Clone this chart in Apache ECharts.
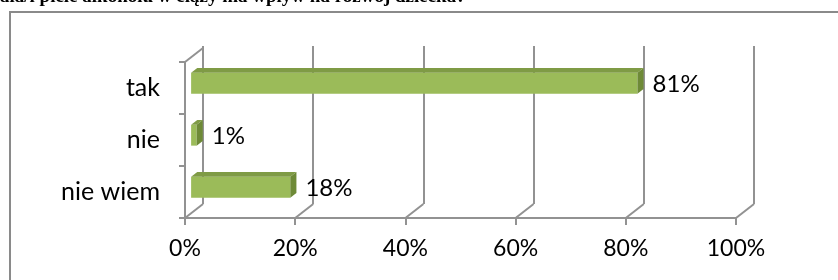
<!DOCTYPE html>
<html>
<head>
<meta charset="utf-8">
<script src="https://cdn.jsdelivr.net/npm/echarts@6/dist/echarts.min.js"></script>
<style>
html,body{margin:0;padding:0;background:#fff;}
#chart{width:838px;height:280px;}
</style>
</head>
<body>
<div id="chart"></div>
<script>
// ---- data ----
const titleText = 'ała/i picie alkoholu w ciąży ma wpływ na rozwój dziecka?';
const categories = ['tak', 'nie', 'nie wiem'];
const values = [81, 1, 18];
const tickValues = [0, 20, 40, 60, 80, 100];

// ---- style ----
const DX = 18, DY = -14;          // 3D depth offset of the back wall
const D0 = 0.34, D1 = 0.68;       // bar depth range (fraction of wall depth)
const LINE = '#929292';
const FONT = 'Lato';
const C_FRONT = '#9bbb59', C_TOP = '#7f9b45', C_SIDE = '#6e8a37';

const chart = echarts.init(document.getElementById('chart'), null, {renderer: 'canvas'});

function renderBar(params, api) {
  const v = api.value(0), c = api.value(1);
  const p0 = api.coord([0, c]);
  const p1 = api.coord([v, c]);
  const bandH = api.size([0, 1])[1];
  const h = bandH * 0.4;
  const fx = DX * D0, fy = DY * D0;
  const ddx = DX * (D1 - D0), ddy = DY * (D1 - D0);
  const yT = p0[1] - h / 2 + fy, yB = p0[1] + h / 2 + fy;
  const xL = p0[0] + fx, xR = p1[0] + fx;
  return {
    type: 'group',
    children: [
      {type: 'polygon', shape: {points: [[xL, yT], [xR, yT], [xR, yB], [xL, yB]]}, style: {fill: C_FRONT}},
      {type: 'polygon', shape: {points: [[xL, yT], [xR, yT], [xR + ddx, yT + ddy], [xL + ddx, yT + ddy]]}, style: {fill: C_TOP}},
      {type: 'polygon', shape: {points: [[xR, yT], [xR + ddx, yT + ddy], [xR + ddx, yB + ddy], [xR, yB]]}, style: {fill: C_SIDE}},
      {type: 'text', style: {
        text: v + '%', x: xR + ddx + 9, y: (yT + yB) / 2 + 1,
        font: '24px ' + FONT, fill: '#000', verticalAlign: 'middle', align: 'left'
      }}
    ]
  };
}

function renderDiag(params, api) {
  const v = api.value(0);
  const cs = params.coordSys;
  const x = api.coord([v, 0])[0];
  const yb = cs.y + cs.height;
  const children = [
    {type: 'line', shape: {x1: x, y1: yb, x2: x + DX, y2: yb + DY}, style: {stroke: LINE, lineWidth: 2}}
  ];
  if (v === tickValues[0]) {
    children.push({type: 'line', shape: {x1: x, y1: cs.y, x2: x + DX, y2: cs.y + DY}, style: {stroke: LINE, lineWidth: 2}});
  }
  return {type: 'group', children: children};
}

const option = {
  animation: false,
  backgroundColor: '#fff',
  graphic: [
    {type: 'rect', shape: {x: 10, y: 12, width: 900, height: 400}, style: {fill: 'none', stroke: '#8a8a8a', lineWidth: 2}, z: 0},
    {type: 'text', left: 0, top: -12, style: {text: titleText, font: 'bold 19px "Liberation Serif"', fill: '#000'}, z: 10}
  ],
  grid: [
    {left: 185, top: 62, width: 551, height: 156},
    {left: 203, top: 46, width: 551, height: 158}
  ],
  xAxis: [
    {
      type: 'value', gridIndex: 0, min: 0, max: 100, interval: 20,
      axisLine: {show: true, lineStyle: {color: LINE, width: 2}},
      axisTick: {show: true, length: 7, lineStyle: {color: LINE, width: 2}},
      axisLabel: {formatter: '{value}%', margin: 19, color: '#000', fontFamily: FONT, fontSize: 23},
      splitLine: {show: false}
    },
    {
      type: 'value', gridIndex: 1, min: 0, max: 100, interval: 20,
      axisLine: {show: false}, axisTick: {show: false}, axisLabel: {show: false},
      splitLine: {show: true, showMinLine: true, showMaxLine: true, lineStyle: {color: LINE, width: 2}}
    }
  ],
  yAxis: [
    {
      type: 'category', gridIndex: 0, data: categories, inverse: true,
      axisLine: {show: true, lineStyle: {color: LINE, width: 2}},
      axisTick: {show: true, length: 6, alignWithLabel: false, lineStyle: {color: LINE, width: 2}},
      axisLabel: {margin: 25, color: '#000', fontFamily: FONT, fontSize: 25},
      splitLine: {show: false}
    },
    {type: 'category', gridIndex: 1, data: categories, inverse: true, show: false}
  ],
  series: [
    {
      type: 'custom', xAxisIndex: 0, yAxisIndex: 0, z: 3,
      renderItem: renderDiag,
      data: tickValues.map(v => [v, 0]),
      silent: true
    },
    {
      type: 'custom', xAxisIndex: 0, yAxisIndex: 0, z: 5,
      renderItem: renderBar,
      data: values.map((v, i) => [v, i]),
      clip: false
    }
  ]
};
chart.setOption(option);
</script>
</body>
</html>
